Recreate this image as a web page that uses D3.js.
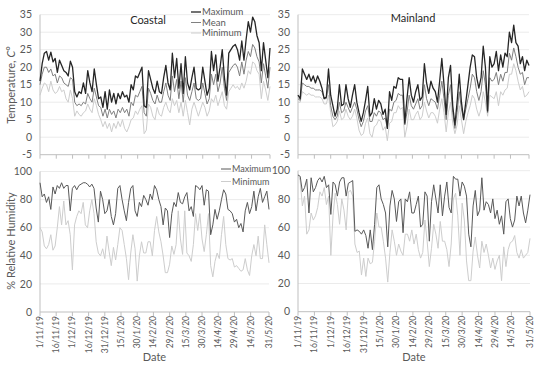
<!DOCTYPE html>
<html>
<head>
<meta charset="utf-8">
<script src="https://cdn.jsdelivr.net/npm/d3@7"></script>
<style>
  body { margin: 0; background: #fff; }
  text { font-family: Lato, "Noto Sans", sans-serif; fill: #595959; }
</style>
</head>
<body>
<div id="viz"></div>
<script>
// one value every 2 days, 1/11/19 .. 31/5/20
const startDay = new Date(2019, 10, 1);

const coastalTmax = [16,21,24,24.5,22,24.3,21.5,22.5,18.5,22,20.5,19,18.5,17.5,21.7,20,13,11.5,13,12.5,15.5,12.5,19,15.5,13,19.5,15,11,11.5,8.5,13,8,13.5,10,12.5,9.5,12.5,11,13,11.5,12,10,15,13.5,17.5,17,18.5,20,9,8.5,19,16.5,14,12.5,16,13,12.5,17,20.5,15.5,13.5,24,17,22.5,14,21,12.5,23,15.5,13.5,17,20,14,13.5,14,20,16,12,14,24.5,19,23.5,16,20,25,17,12,24,25,26,26.5,25,22,27.5,22,28,33,30,34.3,33,29,27,19,27,22,17,25.5];
const coastalTmean = [15,18,20,20,18.5,19.5,17.5,18,15.5,17.5,17,15.5,15,14.5,17,16.5,10,9,9.5,9,10,9.5,12.5,11,10,14,11.5,9,8.5,6,8,5.5,8,6.5,7.5,5.5,8,7,8.5,7,8,6,10,9,12,11.5,13,14.5,7,6,14,12.5,10.5,9.5,12,10,10,13,15.5,12,10.5,17.5,13,16.5,11,16,10,17,12,10.5,13,15.5,11,10.5,11,15.5,12.5,9.5,11,18,15,18,13,15.5,20,14,10.5,18.5,19.5,20.5,21,20,17.5,21.5,18,22,24.5,23,26.5,25.5,23,21.5,15.5,21,17.5,14,20];
const coastalTmin = [12,14,15.5,15,13,16,13.5,12.5,13,14.5,13,13.5,11,10,13.5,11,6,7.5,6.5,6,7,7.5,9.5,8,7,11,9,6.5,5,3,4.5,2.5,4,1.5,4,2.5,4.5,3,5,2.5,1.5,3,5,5.5,7.5,6.5,8,9,1,2,9.5,8.5,6,5,8.5,6.5,6,8.5,10,8,7,11,9,10.5,7,10,6,10.5,7,3.5,8,10,8,6,8,10,8.5,6,7.5,11,10,12,9,11,13,9,8,13,14,15,14,14.5,13.5,15.5,14,16,19,18,21.5,21,19,18,11,16,13.5,10.5,14.5];

const mainlandTmax = [12,11,19.5,18,16.5,18,16,17.5,15.5,17.5,16,14,11,11.5,19.5,12,9,6,8,15,9,9.5,15,11,8.5,12,15,10,7,4.5,7,10.5,14.5,6,7,11,8,10.5,9.5,6.5,8,2.5,13,10.5,14.5,14,17,16.5,16.5,4,11,17,12,10,13,15,10.5,11.5,21,15.5,12.5,16,14,13,10,16,22.5,15,6.5,17,20.5,9,3.5,10,18,10,5,10,15,20,23.5,23,17,14,17,26,20,7.5,23,20,21,24.5,19,23.5,20,24,23,30,27,32,27,26,21,23,19,22,20.5];
const mainlandTmean = [11,10.5,15.5,15,14.5,14.5,14,14,13.5,13.5,13.5,13,11,11,15,9,6,5,6,10,7,7.5,10,8.5,7,8.5,10,8,5,3,4.5,7.5,9,4.5,4.5,7,6,7.5,7,5,5.5,2.5,8,7.5,10,10.5,12.5,12,12,3.5,7,12,9,8,9.5,11,8,9,15,11,9,11,10.5,10,8,12,16,11,5,12,15,7,2.5,7,13,8,5,8,11,14,18,17,13,10.5,13,19,15,7,17,16,16.5,18.5,15,18,16,18.5,18.5,24,22,25.5,23,20,18,18.5,15,17,17];
const mainlandTmin = [10,10,13,12.5,12,12.5,12,12,11.5,11.5,11.5,11,9.5,9.5,12,7,3,3.5,4.5,7.5,5,5.5,8,6,5,6,8,5.5,2,0.5,1,4,5.5,1,0,3,3.5,5,4.5,2,3,-1,4,4.5,7,7,9,8,8.5,0,3,8,5,5,6.5,7.5,5,6,10,7.5,5.5,7,7,6,4,8,11,7,1.5,7,10,4,1,3.5,9,5,1,4.5,7,9,12,11,8,6,8,13,10,6,12,11.5,11,13,9,13,12,13.5,14,18,18,21,19,16,13.5,14.5,11.5,12,13];

const coastalRHmax = [92,82,84,78,82,73,89,84,90,88,92,88,90,90,72,88,90,87,90,91,92,92,91,89,91,88,74,64,86,80,70,72,80,68,62,70,88,90,80,72,65,78,88,90,72,68,78,75,83,80,76,84,80,90,87,80,75,62,74,72,53,70,78,75,85,78,77,82,85,72,75,68,90,89,87,90,76,87,86,55,62,73,66,72,80,87,84,73,72,70,64,66,60,63,57,72,78,70,75,86,72,82,88,78,82,86,73];
const coastalRHmin = [60,57,47,45,48,55,44,47,60,75,62,79,62,65,55,30,62,68,72,70,78,62,60,72,80,70,50,42,40,45,38,54,43,33,46,37,48,60,58,48,38,23,42,55,45,22,40,50,42,42,50,50,40,58,68,57,50,40,28,28,34,47,41,48,72,52,41,72,42,40,36,48,70,58,70,52,43,55,70,33,25,36,42,38,55,68,48,38,37,38,32,33,31,29,30,38,30,26,40,48,40,54,38,38,62,48,35];
const mainlandRHmax = [97,96,85,88,94,70,95,85,88,93,95,92,96,88,90,69,92,90,82,92,95,95,82,91,92,93,57,58,57,55,58,54,45,58,44,62,88,90,80,76,70,46,75,86,80,64,78,80,56,80,78,85,70,70,76,82,60,62,85,82,50,78,90,80,70,90,68,82,92,74,70,96,94,94,82,92,89,82,55,46,75,86,68,72,95,72,78,76,70,80,66,72,62,68,55,78,80,66,60,65,82,75,82,70,63,72,83];
const mainlandRHmin = [97,93,75,82,55,58,70,65,68,74,85,82,88,76,82,40,68,84,76,62,80,72,58,85,86,82,48,42,43,26,38,25,38,34,35,50,70,60,60,50,38,21,42,58,50,40,48,43,40,55,55,50,58,48,55,44,38,42,65,50,32,45,62,55,45,64,50,50,44,32,48,80,84,68,40,77,65,36,22,22,43,53,40,31,50,42,48,40,31,38,30,36,40,22,46,32,44,49,50,54,42,38,44,38,40,42,52];

const tickDays = [0,15,30,45,60,75,90,105,120,135,150,165,180,195,212];
const tickLabels = ['1/11/19','16/11/19','1/12/19','16/12/19','31/12/19','15/1/20','30/1/20','14/2/20','29/2/20','15/3/20','30/3/20','14/4/20','29/4/20','14/5/20','31/5/20'];
const tempTicks = [-5,0,5,10,15,20,25,30,35];
const rhTicks = [0,20,40,60,80,100];

const colMax = '#262626', colMean = '#808080', colMin = '#cdcdcd', colRHmax = '#595959';

const svg = d3.select('#viz').append('svg').attr('width', 550).attr('height', 366);

function dayDate(d) { return d3.timeDay.offset(startDay, d); }

function panel(o) {
  const x = d3.scaleTime().domain([dayDate(0), dayDate(212)]).range([o.x0, o.x1]);
  const y = d3.scaleLinear().domain(o.dom).range([o.y0, o.y1]);
  const g = svg.append('g');

  // grid
  g.selectAll('.grid').data(o.ticks.slice(1)).enter().append('line')
    .attr('x1', o.x0).attr('x2', o.x1)
    .attr('y1', d => y(d)).attr('y2', d => y(d))
    .attr('stroke', '#e6e6e6').attr('stroke-width', 0.8);

  // y labels
  g.selectAll('.yl').data(o.ticks).enter().append('text')
    .attr('x', o.x0 - 8).attr('y', d => y(d)).attr('dy', '0.35em')
    .attr('text-anchor', 'end').attr('font-size', 10.5).text(d => d);

  // axes lines
  g.append('line').attr('x1', o.x0).attr('x2', o.x0).attr('y1', o.y0).attr('y2', o.y1)
    .attr('stroke', '#bfbfbf');
  g.append('line').attr('x1', o.x0).attr('x2', o.x1).attr('y1', o.y0).attr('y2', o.y0)
    .attr('stroke', '#bfbfbf');
  g.selectAll('.xt').data(tickDays).enter().append('line')
    .attr('x1', d => x(dayDate(d))).attr('x2', d => x(dayDate(d)))
    .attr('y1', o.y0).attr('y2', o.y0 + 4).attr('stroke', '#bfbfbf');

  if (o.dateLabels) {
    g.selectAll('.xl').data(tickDays).enter().append('text')
      .attr('transform', (d) => `translate(${x(dayDate(d))},${o.y0 + 4})rotate(-90)`)
      .attr('dy', '0.35em').attr('text-anchor', 'end').attr('font-size', 8.5)
      .text((d, i) => tickLabels[i]);
    g.append('text').attr('x', (o.x0 + o.x1) / 2).attr('y', 361)
      .attr('text-anchor', 'middle').attr('font-size', 11).text('Date');
  }

  const line = d3.line().x((d, i) => x(dayDate(i * 2))).y(d => y(d));
  o.series.forEach(s => {
    g.append('path').datum(s.values).attr('d', line).attr('fill', 'none')
      .attr('stroke', s.color).attr('stroke-width', s.w).attr('stroke-linejoin', 'round');
  });
  return { x, y };
}

panel({ x0: 40, x1: 270, y0: 154.7, y1: 14.7, dom: [-5, 35], ticks: tempTicks,
  series: [
    { values: coastalTmin, color: colMin, w: 1 },
    { values: coastalTmean, color: colMean, w: 1 },
    { values: coastalTmax, color: colMax, w: 1.3 }
  ] });
panel({ x0: 298, x1: 529, y0: 154.7, y1: 14.7, dom: [-5, 35], ticks: tempTicks,
  series: [
    { values: mainlandTmin, color: colMin, w: 1 },
    { values: mainlandTmean, color: colMean, w: 1 },
    { values: mainlandTmax, color: colMax, w: 1.3 }
  ] });
panel({ x0: 40, x1: 269, y0: 312, y1: 171.5, dom: [0, 100], ticks: rhTicks, dateLabels: true,
  series: [
    { values: coastalRHmin, color: colMin, w: 1 },
    { values: coastalRHmax, color: colRHmax, w: 1 }
  ] });
panel({ x0: 298, x1: 530, y0: 311.7, y1: 170.7, dom: [0, 100], ticks: rhTicks, dateLabels: true,
  series: [
    { values: mainlandRHmin, color: colMin, w: 1 },
    { values: mainlandRHmax, color: colRHmax, w: 1 }
  ] });

// titles
svg.append('text').attr('x', 148).attr('y', 24).attr('text-anchor', 'middle')
  .attr('font-size', 11).style('fill', '#262626').text('Coastal');
svg.append('text').attr('x', 413).attr('y', 22).attr('text-anchor', 'middle')
  .attr('font-size', 11).style('fill', '#262626').text('Mainland');

// y titles
const yt = svg.append('text').attr('transform', 'translate(15,85)rotate(-90)')
  .attr('text-anchor', 'middle').attr('font-size', 11);
yt.append('tspan').text('Temperature, ');
yt.append('tspan').attr('font-style', 'italic').text('C');
yt.append('tspan').text('°');
svg.append('text').attr('transform', 'translate(15,241)rotate(-90)')
  .attr('text-anchor', 'middle').attr('font-size', 11).text('% Relative Humidity');

// legends
function legend(x, y0, step, items, fs) {
  items.forEach((it, i) => {
    const y = y0 + i * step;
    svg.append('line').attr('x1', x).attr('x2', x + 10).attr('y1', y).attr('y2', y)
      .attr('stroke', it.color).attr('stroke-width', it.w);
    svg.append('text').attr('x', x + 11).attr('y', y).attr('dy', '0.35em')
      .attr('font-size', fs).text(it.name);
  });
}
legend(191, 12, 10.5, [
  { name: 'Maximum', color: colMax, w: 1.3 },
  { name: 'Mean', color: colMean, w: 1 },
  { name: 'Minimum', color: colMin, w: 1 }
], 9.5);
legend(221, 169, 12.5, [
  { name: 'Maximum', color: colRHmax, w: 1 },
  { name: 'Minimum', color: colMin, w: 1 }
], 9);
</script>
</body>
</html>
